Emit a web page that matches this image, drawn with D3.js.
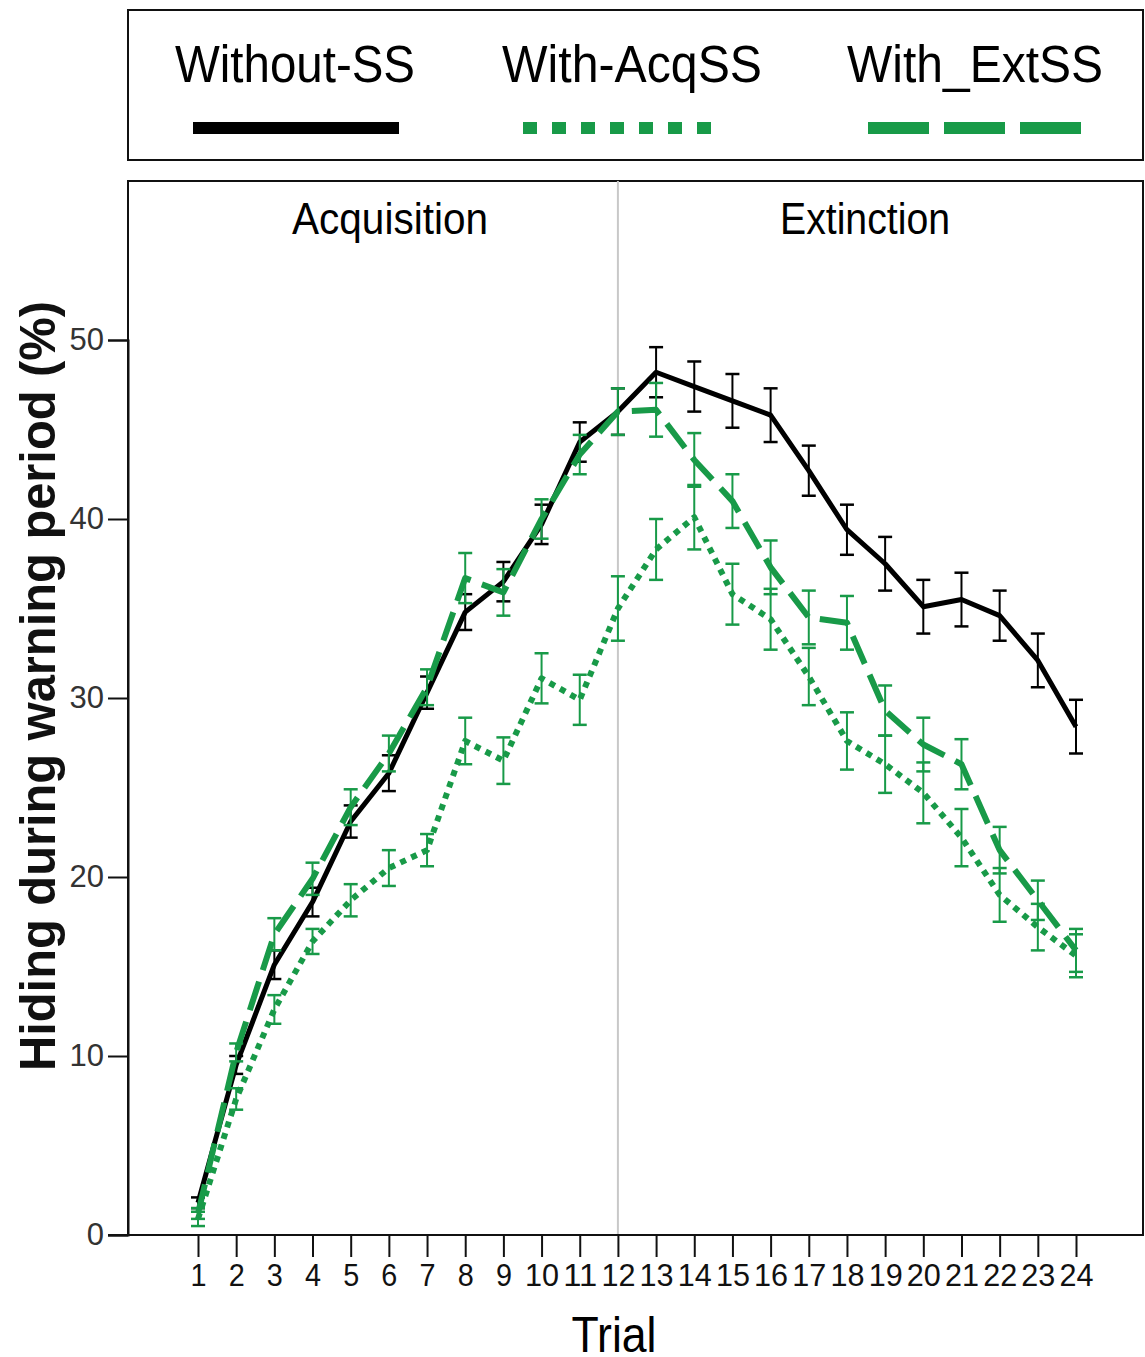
<!DOCTYPE html>
<html>
<head>
<meta charset="utf-8">
<script src="https://cdn.jsdelivr.net/npm/d3@7"></script>
<style>
  body { margin: 0; background: #fff; }
  svg { display: block; font-family: "Liberation Sans", Arial, sans-serif; }
</style>
</head>
<body>
<div id="chart"></div>
<script>
// trials 1..24
var trials = d3.range(1, 25);
var yTicks = [0, 10, 20, 30, 40, 50];

var withoutSS = [1.8, 9.5, 15.1, 18.6, 23.1, 25.8, 30.3, 34.8, 36.5, 39.7, 44.3, 46.0,
                 48.2, 47.4, 46.6, 45.8, 42.7, 39.4, 37.5, 35.1, 35.5, 34.6, 32.1, 28.4];
var withoutSE = [0.3, 0.5, 0.8, 0.8, 0.9, 1.0, 0.9, 1.0, 1.1, 1.1, 1.1, 1.3,
                 1.4, 1.4, 1.5, 1.5, 1.4, 1.4, 1.5, 1.5, 1.5, 1.4, 1.5, 1.5];

var withAcq = [0.9, 7.6, 12.6, 16.4, 18.7, 20.5, 21.5, 27.6, 26.5, 31.1, 29.9, 35.0,
               38.3, 40.1, 35.8, 34.4, 31.2, 27.6, 26.3, 24.7, 22.2, 19.0, 17.2, 15.6];
var withAcqSE = [0.4, 0.6, 0.8, 0.7, 0.9, 1.0, 0.9, 1.3, 1.3, 1.4, 1.4, 1.8,
                 1.7, 1.8, 1.7, 1.7, 1.6, 1.6, 1.6, 1.7, 1.6, 1.5, 1.3, 1.2];

var withExt = [1.2, 10.2, 16.8, 19.9, 23.9, 26.9, 30.6, 36.7, 35.9, 40.0, 43.6, 46.0,
               46.1, 43.3, 41.0, 37.3, 34.5, 34.2, 29.3, 27.4, 26.3, 21.5, 18.7, 15.9];
var withExtSE = [0.3, 0.5, 0.9, 0.9, 1.0, 1.0, 1.0, 1.4, 1.3, 1.1, 1.1, 1.3,
                 1.5, 1.5, 1.5, 1.5, 1.5, 1.5, 1.4, 1.5, 1.4, 1.3, 1.1, 1.2];

var green = "#189a48";

var series = [
  {name: "Without-SS", values: withoutSS, se: withoutSE, color: "#000", width: 5, dash: null, legDash: null},
  {name: "With-AcqSS", values: withAcq, se: withAcqSE, color: green, width: 6, dash: "6,6", legDash: "14,15"},
  {name: "With_ExtSS", values: withExt, se: withExtSE, color: green, width: 6, dash: "30,12", legDash: "61,15"}
];

var W = 1145, H = 1357;
var box = {left: 128, right: 1143, top: 181, bottom: 1235};

var svg = d3.select("#chart").append("svg")
    .attr("width", W)
    .attr("height", H);

var x = d3.scaleLinear().domain([1, 24]).range([198, 1076]);
var y = d3.scaleLinear().domain([0, 50]).range([box.bottom, 340]);

// legend box
svg.append("rect")
    .attr("x", 128).attr("y", 10)
    .attr("width", 1015).attr("height", 150)
    .attr("fill", "none").attr("stroke", "#111").attr("stroke-width", 2);

var legX = [{tx: 295, tw: 240, x1: 193, x2: 399}, {tx: 632, tw: 260, x1: 523, x2: 722}, {tx: 975, tw: 256, x1: 868, x2: 1082}];
series.forEach(function(s, i) {
    svg.append("text")
        .attr("x", legX[i].tx).attr("y", 82)
        .attr("text-anchor", "middle")
        .attr("font-size", 51)
        .attr("textLength", legX[i].tw)
        .attr("lengthAdjust", "spacingAndGlyphs")
        .attr("fill", "#000")
        .text(s.name);
    svg.append("line")
        .attr("x1", legX[i].x1).attr("x2", legX[i].x2)
        .attr("y1", 128).attr("y2", 128)
        .attr("stroke", s.color)
        .attr("stroke-width", 12)
        .attr("stroke-dasharray", s.legDash);
});

// plot frame
svg.append("rect")
    .attr("x", box.left).attr("y", box.top)
    .attr("width", box.right - box.left).attr("height", box.bottom - box.top)
    .attr("fill", "none").attr("stroke", "#111").attr("stroke-width", 2);

// phase divider
svg.append("line")
    .attr("x1", x(12)).attr("x2", x(12))
    .attr("y1", box.top).attr("y2", box.bottom)
    .attr("stroke", "#c8c8c8").attr("stroke-width", 2);

svg.append("text").attr("x", 390).attr("y", 234)
    .attr("text-anchor", "middle").attr("font-size", 44)
    .attr("textLength", 196).attr("lengthAdjust", "spacingAndGlyphs").text("Acquisition");
svg.append("text").attr("x", 865).attr("y", 234)
    .attr("text-anchor", "middle").attr("font-size", 44)
    .attr("textLength", 170).attr("lengthAdjust", "spacingAndGlyphs").text("Extinction");

// y axis
var yAxis = svg.append("g")
    .attr("transform", "translate(" + box.left + ",0)")
    .call(d3.axisLeft(y).tickValues(yTicks).tickSize(20).tickPadding(4));
yAxis.select(".domain").attr("stroke", "#111").attr("stroke-width", 2);
yAxis.selectAll(".tick line").attr("stroke", "#111").attr("stroke-width", 2);
yAxis.selectAll(".tick text")
    .attr("font-size", 31).attr("fill", "#333")
    .attr("font-family", "Liberation Sans, Arial, sans-serif");

// x axis
var xAxis = svg.append("g")
    .attr("transform", "translate(0," + box.bottom + ")")
    .call(d3.axisBottom(x).tickValues(trials).tickFormat(d3.format("d")).tickSize(22).tickPadding(6));
xAxis.select(".domain").remove();
xAxis.selectAll(".tick line").attr("stroke", "#111").attr("stroke-width", 2);
xAxis.selectAll(".tick text")
    .attr("font-size", 32).attr("fill", "#111")
    .attr("font-family", "Liberation Sans, Arial, sans-serif")
    .attr("textLength", function(d) { return d < 10 ? 16 : 34; })
    .attr("lengthAdjust", "spacingAndGlyphs");
svg.append("line")
    .attr("x1", 108).attr("x2", box.right)
    .attr("y1", box.bottom).attr("y2", box.bottom)
    .attr("stroke", "#111").attr("stroke-width", 2);

// axis titles
svg.append("text")
    .attr("transform", "translate(55,686) rotate(-90)")
    .attr("text-anchor", "middle")
    .attr("font-size", 50).attr("font-weight", "bold")
    .attr("textLength", 770).attr("lengthAdjust", "spacingAndGlyphs")
    .attr("fill", "#111")
    .text("Hiding during warning period (%)");

svg.append("text")
    .attr("x", 614).attr("y", 1352)
    .attr("text-anchor", "middle")
    .attr("font-size", 50).attr("fill", "#000")
    .attr("textLength", 85).attr("lengthAdjust", "spacingAndGlyphs")
    .text("Trial");

// series lines and error bars
var line = d3.line()
    .x(function(d, i) { return x(trials[i]); })
    .y(function(d) { return y(d); });

series.forEach(function(s) {
    var g = svg.append("g");
    trials.forEach(function(t, i) {
        var lo = y(s.values[i] - s.se[i]), hi = y(s.values[i] + s.se[i]);
        g.append("line").attr("x1", x(t)).attr("x2", x(t)).attr("y1", lo).attr("y2", hi)
            .attr("stroke", s.color).attr("stroke-width", 2);
        [lo, hi].forEach(function(yy) {
            g.append("line").attr("x1", x(t) - 7).attr("x2", x(t) + 7).attr("y1", yy).attr("y2", yy)
                .attr("stroke", s.color).attr("stroke-width", 2.5);
        });
    });
    g.append("path")
        .attr("d", line(s.values))
        .attr("fill", "none")
        .attr("stroke", s.color)
        .attr("stroke-width", s.width)
        .attr("stroke-dasharray", s.dash)
        .attr("stroke-linejoin", "round");
});
</script>
</body>
</html>
